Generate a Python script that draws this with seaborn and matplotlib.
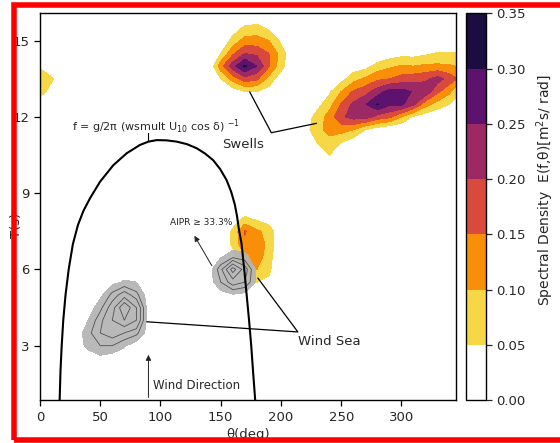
import numpy as np
import matplotlib
matplotlib.use("Agg")
import matplotlib.pyplot as plt
import seaborn as sns
from matplotlib.patches import Rectangle

sns.set_theme(style="ticks")
plt.rcParams["font.family"] = ["DejaVu Sans"]
plt.rcParams["axes.edgecolor"] = "black"

# ----------------------------------------------------------------------
# DATA
# ----------------------------------------------------------------------
# spectral grid: direction (deg) and period (s)
THETA = np.r_[np.arange(0, 341, 10), 345]
PERIOD = np.arange(1.0, 16.01, 0.5)

# swell near 170 deg / 14 s
swell1_theta = [140, 150, 160, 170, 180, 190, 200, 210]
swell1_period = [12.5, 13.0, 13.5, 14.0, 14.5, 15.0, 15.5, 16.0]
swell1_E = [
    [0, 0, 0, 0, 0, 0, 0, 0],
    [0, 0, 0.02, 0.05, 0.05, 0.03, 0, 0],
    [0, 0.05, 0.12, 0.18, 0.16, 0.08, 0.02, 0],
    [0, 0.13, 0.23, 0.31, 0.25, 0.155, 0.07, 0],
    [0, 0.05, 0.14, 0.20, 0.19, 0.15, 0.08, 0],
    [0, 0, 0.07, 0.12, 0.12, 0.10, 0.04, 0],
    [0, 0, 0.02, 0.06, 0.07, 0.04, 0, 0],
    [0, 0, 0, 0, 0, 0, 0, 0],
]

# swell near 285 deg / 12.7 s
swell2_theta = [220, 230, 240, 250, 260, 270, 280, 290, 300, 310, 320, 330, 340, 345]
swell2_period = [10.0, 10.5, 11.0, 11.5, 12.0, 12.5, 13.0, 13.5, 14.0, 14.5, 15.0]
swell2_E = [
    [0, 0, 0, 0, 0, 0, 0, 0, 0, 0, 0, 0, 0, 0],
    [0, 0.02, 0.05, 0, 0, 0, 0, 0, 0, 0, 0, 0, 0, 0],
    [0, 0.05, 0.08, 0.05, 0.02, 0, 0, 0, 0, 0, 0, 0, 0, 0],
    [0.03, 0.08, 0.12, 0.12, 0.10, 0.05, 0.02, 0, 0, 0, 0, 0, 0, 0],
    [0.02, 0.07, 0.12, 0.19, 0.22, 0.22, 0.18, 0.16, 0.10, 0.04, 0.02, 0, 0, 0],
    [0, 0.03, 0.08, 0.155, 0.21, 0.245, 0.303, 0.26, 0.26, 0.21, 0.12, 0.08, 0.05, 0.03],
    [0, 0, 0.04, 0.10, 0.155, 0.18, 0.225, 0.27, 0.27, 0.245, 0.235, 0.16, 0.11, 0.07],
    [0, 0, 0, 0.03, 0.08, 0.11, 0.14, 0.15, 0.17, 0.18, 0.19, 0.22, 0.18, 0.155],
    [0, 0, 0, 0, 0.02, 0.03, 0.07, 0.09, 0.105, 0.10, 0.11, 0.11, 0.105, 0.10],
    [0, 0, 0, 0, 0, 0, 0, 0.02, 0.03, 0.03, 0.04, 0.055, 0.055, 0.055],
    [0, 0, 0, 0, 0, 0, 0, 0, 0, 0, 0, 0, 0, 0],
]

# small swell at the left edge
swell3_theta = [0, 10, 20]
swell3_period = [12.5, 13.0, 13.5, 14.0, 14.5]
swell3_E = [
    [0.02, 0, 0],
    [0.07, 0.03, 0],
    [0.09, 0.055, 0],
    [0.04, 0.02, 0],
    [0, 0, 0],
]

# energy near 175 deg / 7 s
sea_theta = [150, 160, 170, 180, 190, 200]
sea_period = [5.0, 5.5, 6.0, 6.5, 7.0, 7.5, 8.0, 8.5]
sea_E = [
    [0, 0, 0, 0, 0, 0],
    [0, 0, 0.02, 0.05, 0.04, 0],
    [0, 0, 0.06, 0.10, 0.06, 0],
    [0, 0.03, 0.10, 0.13, 0.07, 0],
    [0, 0.06, 0.14, 0.13, 0.085, 0],
    [0, 0.06, 0.155, 0.11, 0.08, 0],
    [0, 0.02, 0.06, 0.04, 0.02, 0],
    [0, 0, 0, 0, 0, 0],
]

# wind-sea partitions (AIPR >= 33.3%)
ws1_theta = [30, 40, 50, 60, 70, 80, 90]
ws1_period = [2.5, 3.0, 3.5, 4.0, 4.5, 5.0, 5.5, 6.0]
ws1_E = [
    [0, 0, 0.005, 0, 0, 0, 0],
    [0, 0.015, 0.025, 0.025, 0.012, 0, 0],
    [0, 0.02, 0.04, 0.05, 0.04, 0.03, 0],
    [0, 0.01, 0.035, 0.06, 0.08, 0.06, 0],
    [0, 0, 0.02, 0.05, 0.10, 0.06, 0],
    [0, 0, 0.005, 0.03, 0.05, 0.03, 0],
    [0, 0, 0, 0.005, 0.012, 0.01, 0],
    [0, 0, 0, 0, 0, 0, 0],
]
ws2_theta = [140, 150, 160, 170, 180]
ws2_period = [4.5, 5.0, 5.5, 6.0, 6.5, 7.0]
ws2_E = [
    [0, 0, 0, 0, 0],
    [0, 0.002, 0.008, 0.004, 0],
    [0, 0.025, 0.05, 0.04, 0.006],
    [0, 0.035, 0.09, 0.05, 0.004],
    [0, 0.008, 0.02, 0.015, 0],
    [0, 0, 0, 0, 0],
]

# wind-sea limit curve f = g/2pi (wsmult U10 cos d)^-1
curve_theta = [16.3, 17.0, 18.0, 19.3, 21.2, 23.8, 27.3, 31.5, 36.0, 41.5, 49.8, 60.8,
               71.9, 83.0, 90.0, 97.0, 105.0, 113.4, 122.0, 130.0, 137.0, 143.7, 149.5,
               154.8, 158.7, 161.7, 163.5, 165.0, 167.3, 169.5, 171.5, 173.5, 175.3,
               176.8, 178.6]
curve_period = [0.85, 2.0, 3.0, 4.0, 5.0, 6.0, 7.0, 7.75, 8.3, 8.8, 9.45, 10.1,
                10.57, 10.9, 11.03, 11.09, 11.08, 11.03, 10.93, 10.77, 10.56, 10.3, 9.95,
                9.52, 9.05, 8.55, 8.1, 7.6, 7.0, 6.0, 5.0, 4.0, 3.0,
                2.0, 0.85]

LEVELS = [0.0, 0.05, 0.10, 0.15, 0.20, 0.25, 0.30, 0.35]
COLORS = ["#ffffff", "#f6d746", "#f98e09", "#d94a3d", "#9d2964", "#5d126e", "#1b0c41"]


def place(field, thetas, periods, rows):
    for p, row in zip(periods, rows):
        i = int(np.argmin(np.abs(PERIOD - p)))
        for th, v in zip(thetas, row):
            j = int(np.argmin(np.abs(THETA - th)))
            field[i, j] = max(field[i, j], v)


E = np.zeros((len(PERIOD), len(THETA)))
place(E, swell1_theta, swell1_period, swell1_E)
place(E, swell2_theta, swell2_period, swell2_E)
place(E, swell3_theta, swell3_period, swell3_E)
place(E, sea_theta, sea_period, sea_E)

WS = np.zeros((len(PERIOD), len(THETA)))
place(WS, ws1_theta, ws1_period, ws1_E)
place(WS, ws2_theta, ws2_period, ws2_E)

# ----------------------------------------------------------------------
# PLOT
# ----------------------------------------------------------------------
W, H = 560, 443
fig = plt.figure(figsize=(W / 100, H / 100), dpi=100)
ax = fig.add_axes([40 / W, (H - 400.3) / H, 415.7 / W, 387 / H])
cax = fig.add_axes([466 / W, (H - 400.3) / H, 20 / W, 387 / H])

cf = ax.contourf(THETA, PERIOD, E, levels=LEVELS, colors=COLORS, zorder=1)

ax.contourf(THETA, PERIOD, WS, levels=[0.01, 1.0], colors=["#b3b3b3"], alpha=0.92, zorder=2)
ax.contour(THETA, PERIOD, WS, levels=[0.025, 0.04, 0.06, 0.08], colors="#505050",
           linewidths=0.6, zorder=3)

sns.lineplot(x=curve_theta, y=curve_period, sort=False, color="black", lw=1.5, ax=ax, zorder=4)

# annotations
ax.plot([89.8, 89.8], [11.36, 11.09], color="black", lw=0.8)
ax.text(96, 11.62, r"f = g/2π (wsmult U$_{10}$ cos δ) $^{-1}$", ha="center", va="center", fontsize=8)

ax.plot([174, 192, 229.5], [12.99, 11.38, 11.75], color="black", lw=0.9, zorder=5)
ax.text(151, 10.9, "Swells", ha="left", va="center", fontsize=9.5)

ax.plot([88.7, 214, 180.8], [3.94, 3.54, 5.66], color="black", lw=0.9, zorder=5)
ax.text(214, 3.18, "Wind Sea", ha="left", va="center", fontsize=9.5)

arrow = dict(arrowstyle="-|>", color="#222222", lw=0.7, mutation_scale=8)
ax.annotate("", xy=(90, 2.75), xytext=(90, 0.85), arrowprops=arrow)
ax.text(93.7, 1.44, "Wind Direction", ha="left", va="center", fontsize=8.5)

ax.annotate("", xy=(127, 7.42), xytext=(143.8, 6.05), arrowprops=arrow, zorder=5)
ax.text(133.7, 7.85, "AIPR ≥ 33.3%", ha="center", va="center", fontsize=6.5)

ax.set_xlim(0, 345)
ax.set_ylim(0.85, 16.08)
ax.set_xticks([0, 50, 100, 150, 200, 250, 300])
ax.set_yticks([3, 6, 9, 12, 15])
ax.tick_params(labelsize=9.5, length=4, width=0.9, color="black")
for s in ax.spines.values():
    s.set_linewidth(1.0)
ax.set_xlabel("θ(deg)", fontsize=9.5)
ax.set_ylabel("T(s)", fontsize=9.5)
ax.xaxis.set_label_coords(0.5, -0.0716)
ax.yaxis.set_label_coords(-0.041, 0.453)

cbar = fig.colorbar(cf, cax=cax)
cbar.set_ticks(LEVELS)
cbar.ax.set_yticklabels([f"{v:.2f}" for v in LEVELS])
cbar.ax.tick_params(labelsize=9.5, length=4, width=0.9)
cbar.outline.set_linewidth(1.0)
cbar.set_label("Spectral Density  E(f,θ)[m$^2$s/ rad]", fontsize=10, labelpad=6, y=0.543)

# red frame around the panel
fig.add_artist(Rectangle((14.2 / W, (H - 440) / H), 1.0, (440 - 4.5) / H, transform=fig.transFigure,
                         fill=False, edgecolor="#ff0000", lw=4.0, zorder=10, clip_on=False))

fig.savefig("out.png", dpi=100)
plt.close(fig)
